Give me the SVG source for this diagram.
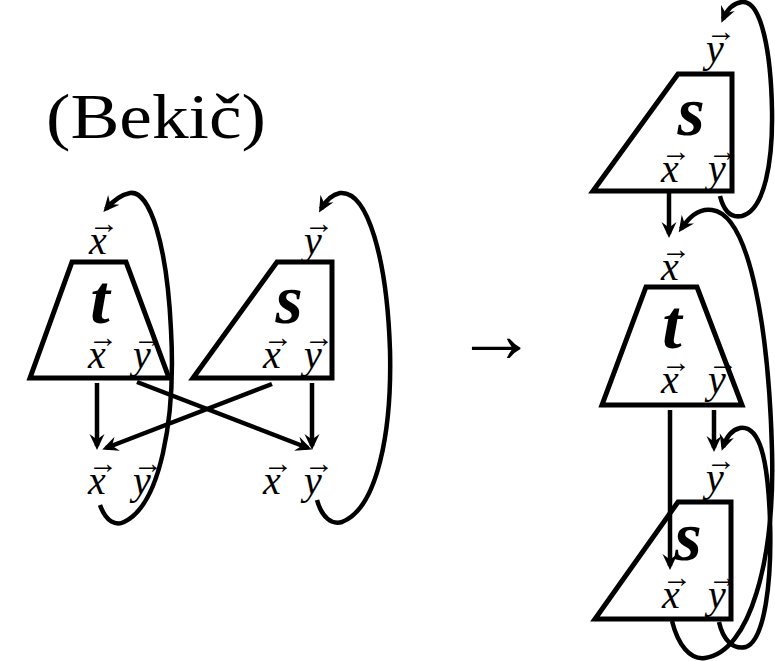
<svg xmlns="http://www.w3.org/2000/svg" width="775" height="661" viewBox="0 0 775 661">
  <style>
    .box { fill: none; stroke: #000; stroke-width: 5; stroke-linejoin: miter; }
    .wire { fill: none; stroke: #000; stroke-width: 4.5; }
    .name { font-family: "Liberation Serif", "Times New Roman", serif; font-style: italic; font-weight: bold; font-size: 70px; text-anchor: middle; fill: #000; }
    .v { font-family: "Liberation Serif", "Times New Roman", serif; font-style: italic; font-size: 40px; text-anchor: middle; fill: #000; }
    .acc { font-family: "Liberation Serif", "DejaVu Serif", serif; font-size: 30px; text-anchor: middle; fill: #000; }
    .title { font-family: "Liberation Serif", "Times New Roman", serif; font-size: 64px; fill: #000; }
    .big { font-family: "Liberation Serif", "DejaVu Serif", serif; font-size: 82px; fill: #000; }
  </style>
  <defs>
    <marker id="head" markerUnits="userSpaceOnUse" markerWidth="24" markerHeight="24" viewBox="-20 -10 24 20" refX="-4" refY="0" orient="auto">
      <path d="M0,0 L-16,-7.5 L-10.5,0 L-16,7.5 Z" fill="#000"/>
    </marker>
  </defs>

  <rect width="775" height="661" fill="#fff"/>

  <text class="title" x="46" y="138" textLength="220" lengthAdjust="spacingAndGlyphs">(Bekič)</text>
  <text class="big" x="455" y="362">→</text>

  <!-- left: t and s side by side -->
  <g id="t-left">
    <polygon class="box" points="72,262 126,262 169,378 30,378"/>
    <text class="name" x="100" y="323">t</text>
    <text class="v" x="97" y="368">x</text><text class="acc" x="103" y="347">→</text>
    <text class="v" x="142" y="368">y</text><text class="acc" x="148" y="347">→</text>
  </g>
  <g id="t-left-in">
    <text class="v" x="98" y="254">x</text><text class="acc" x="104" y="233">→</text>
  </g>
  <g id="s-left">
    <polygon class="box" points="277,262 332,262 332,378 193,378"/>
    <text class="name" x="289" y="323">s</text>
    <text class="v" x="272" y="368">x</text><text class="acc" x="278" y="347">→</text>
    <text class="v" x="313" y="368">y</text><text class="acc" x="319" y="347">→</text>
  </g>
  <g id="s-left-in">
    <text class="v" x="313" y="254">y</text><text class="acc" x="319" y="233">→</text>
  </g>
  <g id="out-left">
    <text class="v" x="97" y="494">x</text><text class="acc" x="103" y="473">→</text>
    <text class="v" x="142" y="494">y</text><text class="acc" x="148" y="473">→</text>
  </g>
  <g id="out-right">
    <text class="v" x="272" y="494">x</text><text class="acc" x="278" y="473">→</text>
    <text class="v" x="313" y="494">y</text><text class="acc" x="319" y="473">→</text>
  </g>

  <!-- right: s, t, s stacked -->
  <g id="s-top">
    <polygon class="box" points="678,74 732,74 732,191 593,191"/>
    <text class="name" x="691" y="135">s</text>
    <text class="v" x="670" y="182">x</text><text class="acc" x="676" y="161">→</text>
    <text class="v" x="717" y="182">y</text><text class="acc" x="723" y="161">→</text>
  </g>
  <g id="s-top-in">
    <text class="v" x="715" y="62">y</text><text class="acc" x="721" y="41">→</text>
  </g>
  <g id="t-mid">
    <polygon class="box" points="646,287 697,287 742,405 602,405"/>
    <text class="name" x="672" y="348">t</text>
    <text class="v" x="670" y="393">x</text><text class="acc" x="676" y="372">→</text>
    <text class="v" x="717" y="393">y</text><text class="acc" x="723" y="372">→</text>
  </g>
  <g id="t-mid-in">
    <text class="v" x="670" y="280">x</text><text class="acc" x="676" y="259">→</text>
  </g>
  <g id="s-bottom">
    <polygon class="box" points="678,502 731,502 731,619 595,619"/>
    <text class="name" x="688" y="560">s</text>
    <text class="v" x="671" y="608">x</text><text class="acc" x="677" y="587">→</text>
    <text class="v" x="717" y="608">y</text><text class="acc" x="723" y="587">→</text>
  </g>
  <g id="s-bottom-in">
    <text class="v" x="715" y="491">y</text><text class="acc" x="721" y="470">→</text>
  </g>

  <g id="connectors">
    <!-- left pair -->
    <path class="wire" marker-end="url(#head)" d="M97,383 V446"/>
    <path class="wire" marker-end="url(#head)" d="M137,382 L308,448"/>
    <path class="wire" marker-end="url(#head)" d="M272,384 L106,448"/>
    <path class="wire" marker-end="url(#head)" d="M312,383 V446"/>
    <path class="wire" marker-end="url(#head)" d="M100,505 C106,522 116,526 124,522 C160,505 176,420 171,330 C167,245 150,190 130,193 C120,195 112,202 106,209"/>
    <path class="wire" marker-end="url(#head)" d="M317,500 C322,518 332,525 342,522 C378,508 392,430 390,350 C387,260 368,190 340,193 C330,195 325,202 321,209"/>

    <!-- right stack -->
    <path class="wire" marker-end="url(#head)" d="M720,196 C724,212 732,218 742,216 C765,210 773,160 772,110 C771,55 762,0 742,2 C732,3 727,10 723,19"/>
    <path class="wire" marker-end="url(#head)" d="M669,193 V234"/>
    <path class="wire" marker-end="url(#head)" d="M672,621 C678,645 690,660 705,658 C750,652 775,560 772,450 C769,340 752,215 712,210 C697,208 688,219 681,229"/>
    <path class="wire" marker-end="url(#head)" d="M670,410 V566"/>
    <path class="wire" marker-end="url(#head)" d="M714,410 V448"/>
    <path class="wire" marker-end="url(#head)" d="M719,622 C723,640 733,650 746,647 C765,640 772,580 770,520 C768,460 760,425 740,428 C731,430 726,438 723,447"/>
  </g>
</svg>
